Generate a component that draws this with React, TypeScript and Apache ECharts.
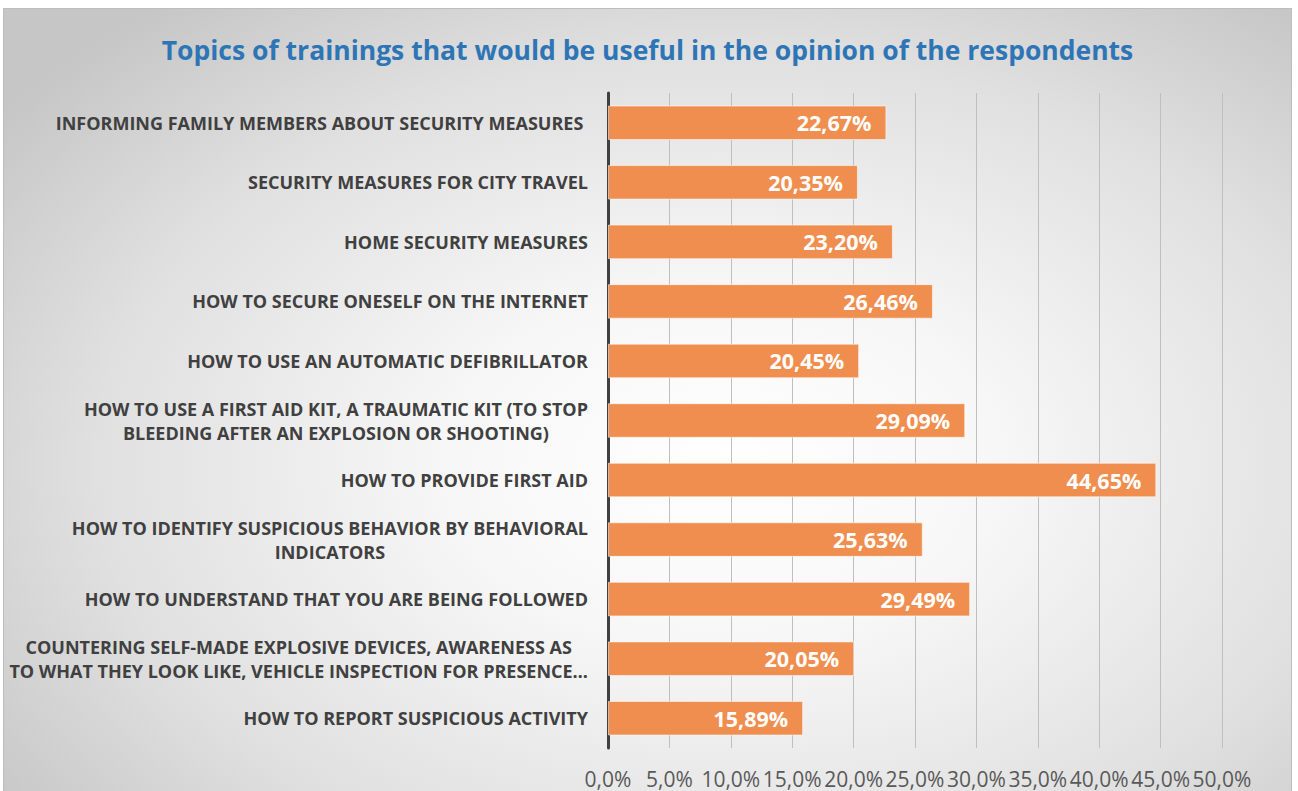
import React, { useEffect, useRef } from "react";
import * as echarts from "echarts";

const TITLE = "Topics of trainings that would be useful in the opinion of the respondents";

const categories: string[] = [
  "INFORMING FAMILY MEMBERS ABOUT SECURITY MEASURES ",
  "SECURITY MEASURES FOR CITY TRAVEL",
  "HOME SECURITY MEASURES",
  "HOW TO SECURE ONESELF ON THE INTERNET",
  "HOW TO USE AN AUTOMATIC DEFIBRILLATOR",
  "HOW TO USE A FIRST AID KIT, A TRAUMATIC KIT (TO STOP\nBLEEDING AFTER AN EXPLOSION OR SHOOTING)",
  "HOW TO PROVIDE FIRST AID",
  "HOW TO IDENTIFY SUSPICIOUS BEHAVIOR BY BEHAVIORAL\nINDICATORS",
  "HOW TO UNDERSTAND THAT YOU ARE BEING FOLLOWED",
  "COUNTERING SELF-MADE EXPLOSIVE DEVICES, AWARENESS AS\nTO WHAT THEY LOOK LIKE, VEHICLE INSPECTION FOR PRESENCE…",
  "HOW TO REPORT SUSPICIOUS ACTIVITY",
];

const values: number[] = [22.67, 20.35, 23.2, 26.46, 20.45, 29.09, 44.65, 25.63, 29.49, 20.05, 15.89];

const FONT = "'Open Sans', sans-serif";

export default function App() {
  const ref = useRef<HTMLDivElement>(null);
  useEffect(() => {
    if (!ref.current) return;
    const chart = echarts.init(ref.current, undefined, { renderer: "svg" });
    chart.setOption({
      animation: false,
      title: {
        text: TITLE,
        left: "center",
        top: 22,
        textStyle: { color: "#2E75B6", fontSize: 26.5, fontWeight: "bold", fontFamily: FONT },
      },
      grid: { left: 604, right: 69, top: 84, bottom: 44, containLabel: false, outerBoundsMode: "none" },
      xAxis: {
        type: "value",
        min: 0,
        max: 50,
        interval: 5,
        axisLine: { show: false },
        axisTick: { show: false },
        splitLine: { show: true, lineStyle: { color: "#bfbfbf", width: 1 } },
        axisLabel: {
          margin: 20,
          color: "#595959",
          fontSize: 21,
          fontFamily: FONT,
          formatter: (v: number) => v.toFixed(1).replace(".", ",") + "%",
        },
      },
      yAxis: {
        type: "category",
        data: categories,
        inverse: true,
        axisLine: { show: true, lineStyle: { color: "#404040", width: 3 } },
        axisTick: { show: false },
        axisLabel: {
          margin: 20,
          color: "#404040",
          fontSize: 18,
          fontWeight: "bold",
          fontFamily: FONT,
          lineHeight: 24,
          formatter: (v: string) =>
            v.includes("\n") ? v.split("\n").map((l) => `{c|${l}}`).join("\n") : v,
          rich: {
            c: {
              align: "center",
              color: "#404040",
              fontSize: 18,
              fontWeight: "bold",
              fontFamily: FONT,
              lineHeight: 24,
            },
          },
        },
      },
      series: [
        {
          type: "bar",
          data: values,
          barWidth: "58%",
          itemStyle: {
            color: "#EF8E4E",
            borderColor: "rgba(255,255,255,0.55)",
            borderWidth: 1,
          },
          label: {
            show: true,
            position: "insideRight",
            distance: 15,
            color: "#ffffff",
            fontSize: 21.5,
            fontWeight: "bold",
            fontFamily: FONT,
            formatter: (p: any) => p.value.toFixed(2).replace(".", ",") + "%",
          },
        },
      ],
    });
    return () => chart.dispose();
  }, []);

  return (
    <div style={{ position: "absolute", left: 0, top: 0, width: 1298, height: 791, background: "#ffffff", overflow: "hidden" }}>
      <div
        style={{
          position: "absolute",
          left: 3,
          top: 8,
          width: 1289,
          height: 790,
          boxSizing: "border-box",
          border: "1px solid #bdbdbd",
          background: "radial-gradient(ellipse 70% 75% at 56% 58%, #ffffff 0%, #f7f7f7 30%, #e0e0e0 70%, #c6c6c6 100%)",
        }}
      >
        <div ref={ref} style={{ width: 1287, height: 783 }} />
      </div>
    </div>
  );
}
